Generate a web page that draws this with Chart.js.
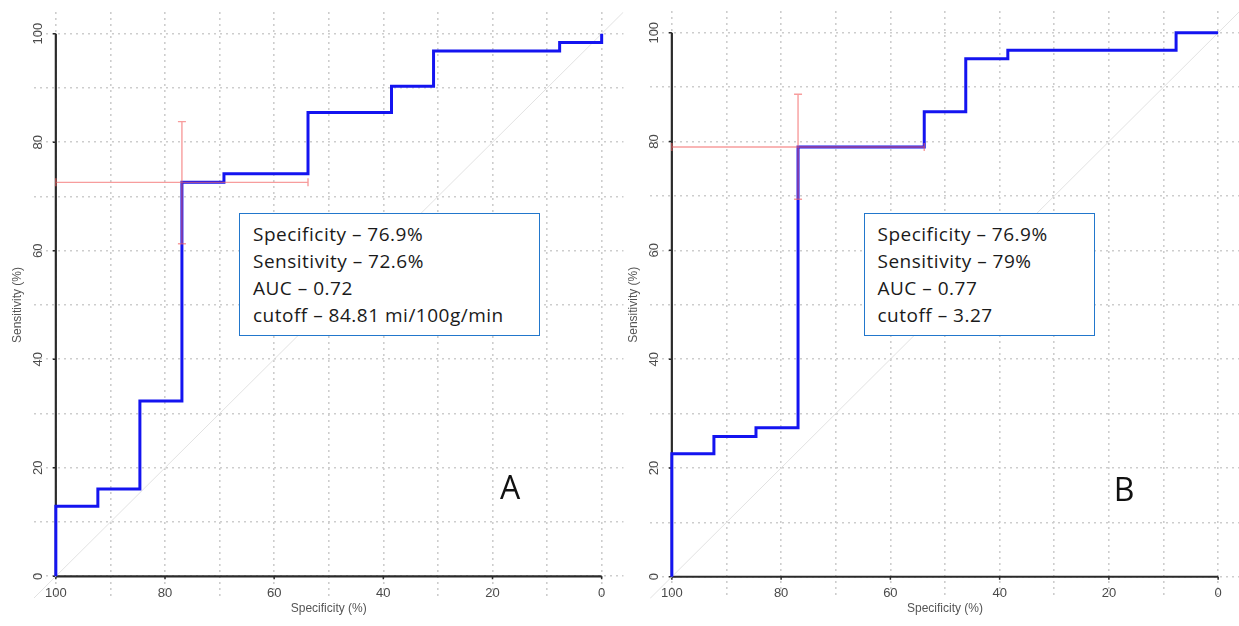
<!DOCTYPE html>
<html>
<head>
<meta charset="utf-8">
<script src="https://cdn.jsdelivr.net/npm/chart.js@4.4.1/dist/chart.umd.min.js"></script>
<style>
  html, body { margin: 0; padding: 0; background: #fff; width: 1239px; height: 626px; overflow: hidden; }
  canvas { position: absolute; top: 0; }
  .info {
    position: absolute; box-sizing: border-box; background: #fff;
    border: 1.5px solid #2277cc;
    font-family: "Open Sans", Lato, sans-serif; font-size: 19px; letter-spacing: 0.5px; line-height: 27px;
    color: #1a1a1a; white-space: nowrap;
  }
  .tag { position: absolute; font-family: "Open Sans", Lato, sans-serif; font-size: 32px; line-height: 1; color: #111; transform: translate(-50%, -50%); }
</style>
</head>
<body>
<canvas id="rocA" width="626" height="626" style="left:0"></canvas>
<canvas id="rocB" width="622" height="626" style="left:620px"></canvas>
<div class="info" id="infoA" style="left:238.5px; top:212.5px; width:301px; height:123.5px; padding:7px 0 0 13.5px;"></div>
<div class="info" id="infoB" style="left:864px; top:212.5px; width:231px; height:123.5px; padding:7px 0 0 12.5px;"></div>
<div class="tag" style="left:510px; top:487px;">A</div>
<div class="tag" style="left:1124px; top:489px;">B</div>
<script>
// ROC curve A: corner points (specificity %, sensitivity %)
const specA = [100, 100, 92.3, 84.6, 76.9, 69.2, 53.8, 38.5, 30.8, 7.7, 0];
const sensA = [0, 12.9, 16.1, 32.3, 72.6, 74.2, 85.5, 90.3, 96.8, 98.4, 100];
// ROC curve B
const specB = [100, 100, 92.3, 84.6, 76.9, 53.8, 46.2, 38.5, 7.7, 0];
const sensB = [0, 22.6, 25.8, 27.4, 79.0, 85.5, 95.2, 96.8, 100, 100];

// cut-off point [spec, sens] and its confidence limits
const cutA = [76.9, 72.6];
const specCiA = [100, 53.8];
const sensCiA = [61.3, 83.8];
const cutB = [76.9, 79.0];
const specCiB = [100, 53.8];
const sensCiB = [69.4, 88.7];

// axes
const axisMin = -4, axisMax = 104;
const axisTicks = [100, 80, 60, 40, 20, 0];
const gridValues = [0, 10, 20, 30, 40, 50, 60, 70, 80, 90, 100];
const chanceSpec = [axisMax, axisMin];
const chanceSens = [axisMin, axisMax];

// text boxes
const infoA = ['Specificity – 76.9%', 'Sensitivity – 72.6%', 'AUC – 0.72', 'cutoff – 84.81 mi/100g/min'];
const infoB = ['Specificity – 76.9%', 'Sensitivity – 79%', 'AUC – 0.77', 'cutoff – 3.27'];

document.getElementById('infoA').innerHTML = infoA.map(t => '<div>' + t + '</div>').join('');
document.getElementById('infoB').innerHTML = infoB.map(t => '<div>' + t + '</div>').join('');

// axes, labels and confidence bars drawn on the chart's own scales
const rocDecor = {
    id: 'rocDecor',
    beforeDatasetsDraw(chart) {
        const { ctx, scales: { x, y } } = chart;
        const x0 = x.getPixelForValue(100), x1 = x.getPixelForValue(0);
        const y0 = y.getPixelForValue(0), y1 = y.getPixelForValue(100);
        ctx.save();
        ctx.strokeStyle = '#2a2a2a';
        ctx.lineWidth = 2.2;
        ctx.beginPath();
        ctx.moveTo(x0, y1);
        ctx.lineTo(x0, y0);
        ctx.lineTo(x1, y0);
        ctx.stroke();
        ctx.lineWidth = 1.5;
        axisTicks.forEach(v => {
            const px = x.getPixelForValue(v), py = y.getPixelForValue(v);
            ctx.beginPath();
            ctx.moveTo(px, y0); ctx.lineTo(px, y0 + 3);
            ctx.moveTo(x0, py); ctx.lineTo(x0 - 3, py);
            ctx.stroke();
        });
        ctx.restore();
    },
    afterDatasetsDraw(chart, args, opts) {
        const { ctx, chartArea, scales: { x, y } } = chart;
        const x0 = x.getPixelForValue(100);
        const y0 = y.getPixelForValue(0);
        ctx.save();

        // confidence bars of the cut-off point
        const cap = 4;
        ctx.strokeStyle = 'rgba(242, 105, 105, 0.65)';
        ctx.lineWidth = 1.4;
        const cy = y.getPixelForValue(opts.cut[1]);
        const sa = x.getPixelForValue(opts.specCi[0]), sb = x.getPixelForValue(opts.specCi[1]);
        ctx.beginPath();
        ctx.moveTo(sa, cy); ctx.lineTo(sb, cy);
        ctx.moveTo(sa, cy - cap); ctx.lineTo(sa, cy + cap);
        ctx.moveTo(sb, cy - cap); ctx.lineTo(sb, cy + cap);
        const cx = x.getPixelForValue(opts.cut[0]);
        const ya = y.getPixelForValue(opts.sensCi[0]), yb = y.getPixelForValue(opts.sensCi[1]);
        ctx.moveTo(cx, ya); ctx.lineTo(cx, yb);
        ctx.moveTo(cx - cap, ya); ctx.lineTo(cx + cap, ya);
        ctx.moveTo(cx - cap, yb); ctx.lineTo(cx + cap, yb);
        ctx.stroke();

        // tick labels
        ctx.fillStyle = '#4a4a4a';
        ctx.font = '13px "Liberation Sans", Arial, sans-serif';
        ctx.textAlign = 'center';
        ctx.textBaseline = 'middle';
        axisTicks.forEach(v => {
            ctx.fillText(String(v), x.getPixelForValue(v), y0 + 17);
            ctx.save();
            ctx.translate(x0 - 17, y.getPixelForValue(v));
            ctx.rotate(-Math.PI / 2);
            ctx.fillText(String(v), 0, 0);
            ctx.restore();
        });

        // axis titles
        ctx.fillStyle = '#555';
        ctx.font = '12px "Liberation Sans", Arial, sans-serif';
        ctx.fillText('Specificity (%)', (chartArea.left + chartArea.right) / 2, y0 + 32);
        ctx.translate(x0 - 38, (chartArea.top + chartArea.bottom) / 2);
        ctx.rotate(-Math.PI / 2);
        ctx.fillText('Sensitivity (%)', 0, 0);
        ctx.restore();
    }
};

function buildRoc(id, spec, sens, padding, cut, specCi, sensCi) {
    const roc = spec.map((s, i) => ({ x: s, y: sens[i] }));
    const chance = chanceSpec.map((s, i) => ({ x: s, y: chanceSens[i] }));
    const gridTicks = scale => { scale.ticks = gridValues.map(v => ({ value: v })); };
    return new Chart(document.getElementById(id), {
        type: 'line',
        data: {
            datasets: [
                { data: roc, borderColor: '#1414f0', borderWidth: 3, stepped: 'before', pointRadius: 0, fill: false },
                { data: chance, borderColor: '#e2e2e2', borderWidth: 1, pointRadius: 0, fill: false }
            ]
        },
        options: {
            responsive: false,
            animation: false,
            events: [],
            layout: { padding },
            plugins: {
                legend: { display: false },
                tooltip: { enabled: false },
                rocDecor: { cut, specCi, sensCi }
            },
            scales: {
                x: {
                    type: 'linear', reverse: true, min: axisMin, max: axisMax,
                    ticks: { display: false },
                    grid: { color: '#cdcdcd', lineWidth: 1.6, drawTicks: false },
                    border: { display: false, dash: [2, 4] },
                    afterBuildTicks: gridTicks,
                    afterFit: scale => { scale.height = 0; }
                },
                y: {
                    type: 'linear', min: axisMin, max: axisMax,
                    ticks: { display: false },
                    grid: { color: '#cdcdcd', lineWidth: 1.6, drawTicks: false },
                    border: { display: false, dash: [2, 4] },
                    afterBuildTicks: gridTicks,
                    afterFit: scale => { scale.width = 0; }
                }
            }
        },
        plugins: [rocDecor]
    });
}

buildRoc('rocA', specA, sensA, { left: 34, right: 2.5, top: 12, bottom: 28 }, cutA, specCiA, sensCiA);
buildRoc('rocB', specB, sensB, { left: 30, right: 2, top: 11, bottom: 27.5 }, cutB, specCiB, sensCiB);
</script>
</body>
</html>
